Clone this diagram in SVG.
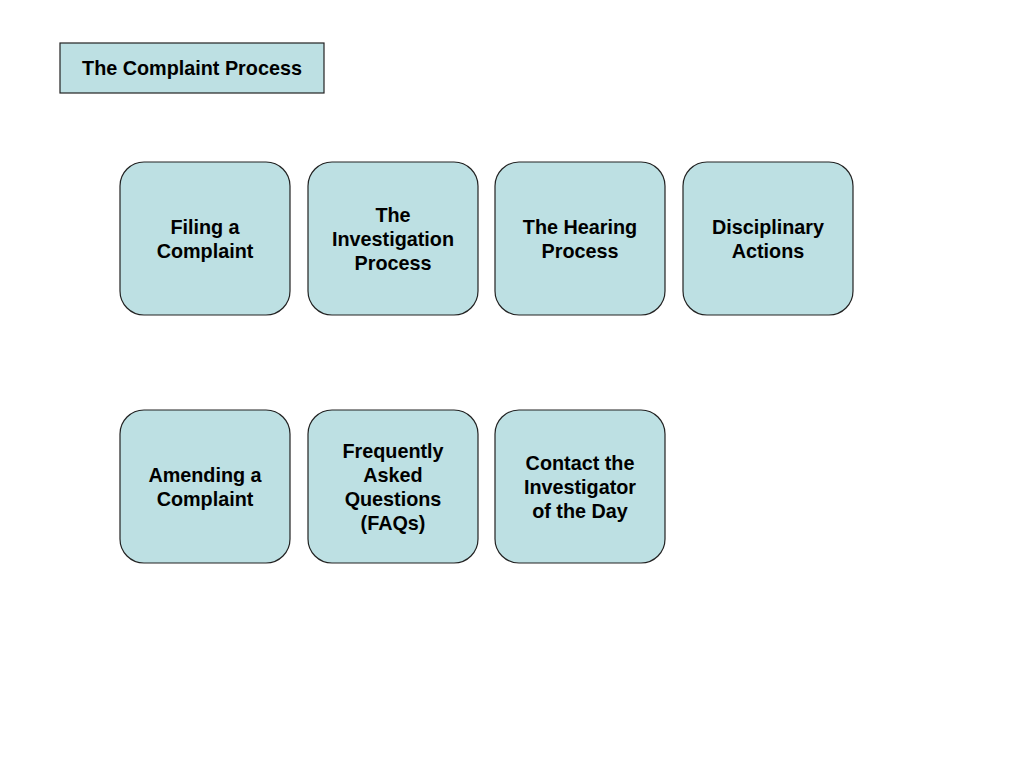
<svg xmlns="http://www.w3.org/2000/svg" width="1024" height="768" viewBox="0 0 1024 768">
<style>
.box{fill:#bde0e3;stroke:#222;stroke-width:1.2}
.t{font-family:"Liberation Sans",Arial,sans-serif;font-weight:bold;font-size:19.8px;fill:#000;text-anchor:middle}
</style>
<rect width="1024" height="768" fill="#fff"/>
<g id="title"><rect class="box" x="60" y="43" width="264" height="50"/><text class="t" x="192" y="75">The Complaint Process</text></g>
<g id="connectors"/>
<g id="n1"><rect class="box" x="120" y="162" width="170" height="153" rx="24"/><text class="t" x="205" y="234">Filing a</text><text class="t" x="205" y="258">Complaint</text></g>
<g id="n2"><rect class="box" x="308" y="162" width="170" height="153" rx="24"/><text class="t" x="393" y="222">The</text><text class="t" x="393" y="246">Investigation</text><text class="t" x="393" y="270">Process</text></g>
<g id="n3"><rect class="box" x="495" y="162" width="170" height="153" rx="24"/><text class="t" x="580" y="234">The Hearing</text><text class="t" x="580" y="258">Process</text></g>
<g id="n4"><rect class="box" x="683" y="162" width="170" height="153" rx="24"/><text class="t" x="768" y="234">Disciplinary</text><text class="t" x="768" y="258">Actions</text></g>
<g id="n5"><rect class="box" x="120" y="410" width="170" height="153" rx="24"/><text class="t" x="205" y="482">Amending a</text><text class="t" x="205" y="506">Complaint</text></g>
<g id="n6"><rect class="box" x="308" y="410" width="170" height="153" rx="24"/><text class="t" x="393" y="458">Frequently</text><text class="t" x="393" y="482">Asked</text><text class="t" x="393" y="506">Questions</text><text class="t" x="393" y="530">(FAQs)</text></g>
<g id="n7"><rect class="box" x="495" y="410" width="170" height="153" rx="24"/><text class="t" x="580" y="470">Contact the</text><text class="t" x="580" y="494">Investigator</text><text class="t" x="580" y="518">of the Day</text></g>
</svg>
